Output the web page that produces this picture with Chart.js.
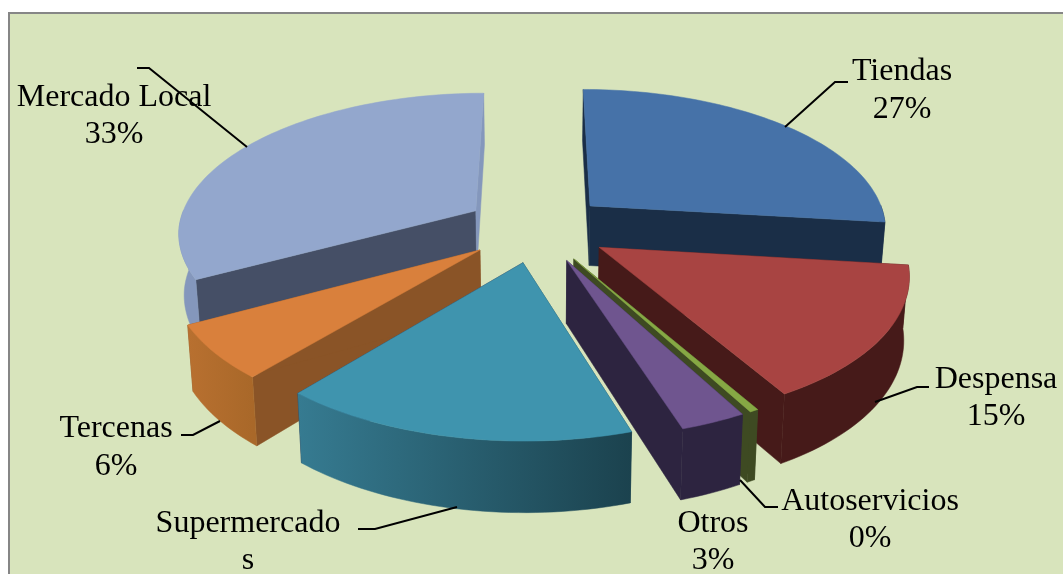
<!DOCTYPE html>
<html>
<head>
<meta charset="utf-8">
<title>Canales</title>
<style>
  body { margin: 0; background: #fff; }
  canvas { display: block; }
</style>
<script src="https://cdn.jsdelivr.net/npm/chart.js@4"></script>
</head>
<body>
<canvas id="myChart" width="1063" height="574"></canvas>
<script>
// datos (Supermercados queda cortado, sale de lo que falta)
const categories = ["Tiendas", "Despensa", "Autoservicios", "Otros", "Supermercados", "Tercenas", "Mercado Local"];
const shares = [27, 15, 0.4, 3, 16, 6, 33];

const topColors = ["#4672a8", "#a84442", "#86a844", "#6f558f", "#3f94ae", "#d9803c", "#93a7cd"];
const startFaceColors = ["#1a2e47", "#461a19", "#3e4a22", "#2d2440", "#1c4450", "#8a5427", "#454f66"];
const endFaceColors = ["#1a2e47", "#461a19", "#3e4a22", "#2d2440", "#2d2440", "#8a5427", "#8497bc"];
const wallLeftColors = ["#1a2e47", "#461a19", "#3e4a22", "#2d2440", "#367b91", "#b87030", "#8497bc"];
const wallRightColors = ["#1a2e47", "#461a19", "#3e4a22", "#2d2440", "#1b424e", "#a96829", "#8497bc"];

// posicion de las etiquetas: [texto, x, y base]
const labelLayout = [
  [["Tiendas", "27%"], 902, [80, 118]],
  [["Despensa", "15%"], 996, [388, 425]],
  [["Autoservicios", "0%"], 870, [510, 547]],
  [["Otros", "3%"], 713, [532, 569]],
  [["Supermercado", "s"], 248, [532, 569]],
  [["Tercenas", "6%"], 116, [437, 475]],
  [["Mercado Local", "33%"], 114, [106, 143]]
];
const leaderLines = [
  [[785, 127], [835, 82], [848, 82]],
  [[875, 402], [917, 387], [929, 387]],
  [[740, 480], [765, 507], [778, 507]],
  [[457, 507], [375, 529], [358, 529]],
  [[220, 421], [193, 435], [181, 435]],
  [[247, 147], [149, 68], [137, 68]]
];

// camara del pastel 3D
const cam = { cx: 537, cy: 228, radius: 298, tilt: 0.47, persp: 0.15, depth: 61, depthGrow: 0.14, narrow: 0.015, shear: 4 };

function project(u, v, z) {
  const w = 1 / (1 - v * cam.persp);
  return {
    x: cam.cx + Math.max(0, v) * cam.shear + u * cam.radius * w * (1 - z * cam.narrow),
    y: cam.cy + v * cam.radius * cam.tilt * w + z * cam.depth * (1 + cam.depthGrow * v)
  };
}

function poly(ctx, points, fill) {
  ctx.beginPath();
  points.forEach((p, i) => i ? ctx.lineTo(p.x, p.y) : ctx.moveTo(p.x, p.y));
  ctx.closePath();
  ctx.fillStyle = fill;
  ctx.fill();
  ctx.strokeStyle = fill;
  ctx.lineWidth = 0.5;
  ctx.stroke();
}

function drawSlice(ctx, arc, i) {
  const mid = (arc.startAngle + arc.endAngle) / 2;
  const disp = arc.options.offset / 4 / arc.outerRadius;
  const ox = Math.cos(mid) * disp;
  const oy = Math.sin(mid) * disp;
  const steps = Math.max(2, Math.ceil((arc.endAngle - arc.startAngle) * 40));
  const rim = [];
  for (let s = 0; s <= steps; s++) {
    const a = arc.startAngle + (arc.endAngle - arc.startAngle) * s / steps;
    rim.push({ a, u: ox + Math.cos(a), v: oy + Math.sin(a) });
  }
  const first = rim[0];
  const last = rim[rim.length - 1];

  poly(ctx, [project(ox, oy, 0), project(first.u, first.v, 0), project(first.u, first.v, 1), project(ox, oy, 1)], startFaceColors[i]);
  poly(ctx, [project(ox, oy, 0), project(last.u, last.v, 0), project(last.u, last.v, 1), project(ox, oy, 1)], endFaceColors[i]);

  // pared curva: solo lo que mira al frente
  const front = rim.filter(p => Math.sin(p.a) > -0.02);
  if (front.length > 1) {
    const upper = front.map(p => project(p.u, p.v, 0));
    const lower = front.map(p => project(p.u, p.v, 1)).reverse();
    const xs = upper.map(p => p.x);
    const grad = ctx.createLinearGradient(Math.min(...xs), 0, Math.max(...xs), 0);
    grad.addColorStop(0, wallLeftColors[i]);
    grad.addColorStop(1, wallRightColors[i]);
    poly(ctx, upper.concat(lower), grad);
  }

  const top = [project(ox, oy, 0)].concat(rim.map(p => project(p.u, p.v, 0)));
  poly(ctx, top, topColors[i]);
}

const pie3d = {
  id: "pie3d",
  beforeDraw(chart) {
    const ctx = chart.ctx;
    ctx.fillStyle = "#d8e4bc";
    ctx.fillRect(9, 13, chart.width - 9, chart.height - 13);
    ctx.fillStyle = "#868686";
    ctx.fillRect(8, 12, chart.width - 8, 2);
    ctx.fillRect(8, 12, 2, chart.height - 12);
  },
  beforeDatasetDraw(chart, args) {
    const ctx = chart.ctx;
    const arcs = args.meta.data;
    const order = arcs.map((arc, i) => i).sort((a, b) =>
      Math.sin((arcs[a].startAngle + arcs[a].endAngle) / 2) - Math.sin((arcs[b].startAngle + arcs[b].endAngle) / 2));
    ctx.save();
    order.forEach(i => drawSlice(ctx, arcs[i], i));
    ctx.restore();
    return false;
  },
  afterDatasetsDraw(chart) {
    const ctx = chart.ctx;
    ctx.save();
    ctx.strokeStyle = "#000";
    ctx.lineWidth = 2;
    leaderLines.forEach(line => {
      ctx.beginPath();
      line.forEach((p, i) => i ? ctx.lineTo(p[0], p[1]) : ctx.moveTo(p[0], p[1]));
      ctx.stroke();
    });
    ctx.fillStyle = "#000";
    ctx.font = '32px "Liberation Serif"';
    ctx.textAlign = "center";
    labelLayout.forEach(l => {
      l[0].forEach((txt, i) => ctx.fillText(txt, l[1], l[2][i]));
    });
    ctx.restore();
  }
};

new Chart(document.getElementById("myChart"), {
  type: "pie",
  data: {
    labels: categories,
    datasets: [{
      data: shares,
      backgroundColor: topColors,
      borderWidth: 0,
      offset: 188
    }]
  },
  options: {
    responsive: false,
    animation: false,
    plugins: {
      legend: { display: false },
      tooltip: { enabled: false }
    }
  },
  plugins: [pie3d]
});
</script>
</body>
</html>
